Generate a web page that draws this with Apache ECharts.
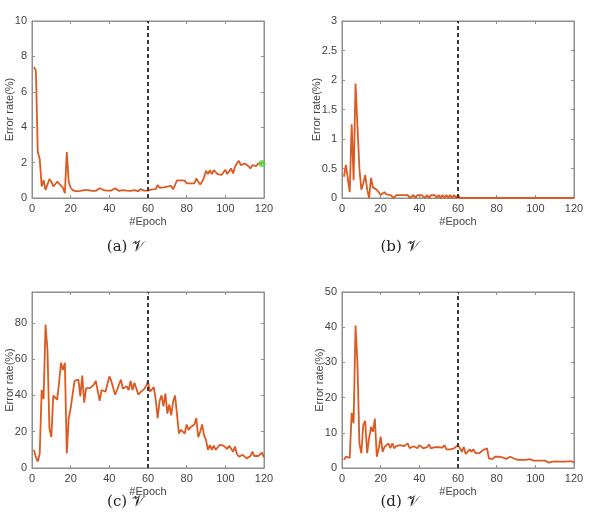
<!DOCTYPE html>
<html>
<head>
<meta charset="utf-8">
<script src="https://cdn.jsdelivr.net/npm/echarts@6/dist/echarts.min.js"></script>
<style>html,body{margin:0;padding:0;background:#fff}#c{width:591px;height:528px}</style>
</head>
<body>
<div id="c"></div>
<script>
const epochTicks = [0, 20, 40, 60, 80, 100, 120];
const splitEpoch = 60;
const captions = ['(a) \u{1D4B1}', '(b) \u{1D4B1}', '(c) \u{1D4B1}', '(d) \u{1D4B1}'];

const errA = [7.4, 7.2, 2.6, 2.2, 0.65, 1.0, 0.45, 0.36, 1.07, 0.92,
  0.65, 0.7, 0.92, 0.83, 0.7, 0.58, 0.27, 2.6, 0.9, 0.58,
  0.45, 0.4, 0.38, 0.45, 0.4, 0.5, 0.45, 0.48, 0.45, 0.42,
  0.4, 0.42, 0.4, 0.42, 0.55, 0.45, 0.45, 0.4, 0.42, 0.4,
  0.42, 0.4, 0.55, 0.45, 0.4, 0.42, 0.45, 0.45, 0.42, 0.45,
  0.4, 0.42, 0.45, 0.4, 0.38, 0.5, 0.45, 0.42, 0.45, 0.42,
  0.49, 0.49, 0.49, 0.5, 0.73, 0.58, 0.49, 0.6, 0.53, 0.64,
  0.55, 0.68, 0.49, 0.6, 1.0, 0.98, 1.0, 0.92, 0.98, 0.83,
  0.86, 0.83, 0.88, 0.83, 1.1, 0.92, 0.77, 0.92, 1.17, 1.54,
  1.35, 1.58, 1.35, 1.58, 1.48, 1.35, 1.24, 1.3, 1.39, 1.6,
  1.35, 1.39, 1.67, 1.39, 1.77, 1.95, 2.1, 1.86, 1.77, 1.95,
  2.05, 1.8, 1.67, 1.86, 1.92, 1.8, 1.95, 1.85, 1.95];
const markerA = [119, 1.95];

const errB = [0.36, 0.56, 0.55, 0.1, 1.25, 0.3, 1.94, 1.91, 0.5, 0.14,
  0.25, 0.39, 0.15, 0.0, 0.34, 0.18, 0.15, 0.14, 0.12, 0.05,
  0.06, 0.1, 0.06, 0.05, 0.05, 0.05, 0.0, 0.05, 0.05, 0.05,
  0.05, 0.05, 0.05, 0.05, 0.0, 0.0, 0.05, 0.0, 0.05, 0.05,
  0.05, 0.05, 0.0, 0.05, 0.0, 0.05, 0.05, 0.05, 0.0, 0.05,
  0.0, 0.05, 0.0, 0.05, 0.0, 0.05, 0.0, 0.05, 0.0, 0.05,
  0, 0, 0, 0, 0, 0, 0, 0, 0, 0,
  0, 0, 0, 0, 0, 0, 0, 0, 0, 0,
  0, 0, 0, 0, 0, 0, 0, 0, 0, 0,
  0, 0, 0, 0, 0, 0, 0, 0, 0, 0,
  0, 0, 0, 0, 0, 0, 0, 0, 0, 0,
  0, 0, 0, 0, 0, 0, 0, 0, 0, 0];

const errC = [10, 6, 3.5, 8, 43, 38, 79, 65, 22, 17,
  40, 41, 37.6, 47, 58, 54, 58, 8, 27.5, 33,
  33, 48, 48, 48.7, 39.5, 51, 36, 44, 44, 44,
  45, 46, 48, 48, 37, 43, 42.5, 42, 41, 50.5,
  48, 48, 40.4, 43, 46, 48.7, 43.7, 44.6, 45, 43,
  48, 43, 47, 47.7, 40.4, 41.7, 42.4, 43.5, 45, 47.7,
  42, 41, 44.6, 37.6, 27.5, 37, 40, 34, 41, 30,
  35, 29, 36.7, 40, 40, 19, 21, 20, 19, 24,
  21, 22.5, 23, 24, 27.5, 17, 20, 24, 18, 15.5,
  10, 12.7, 10, 12.3, 10, 11, 12.7, 13, 12.3, 11.8,
  10.5, 12.3, 11.8, 9, 11.8, 7.7, 6.3, 5.9, 7.2, 6.3,
  5.3, 4.4, 6.6, 9, 6.6, 6.3, 6.6, 6.6, 8.5, 5.9];

const errD = [2.3, 3.2, 3.2, 2.9, 15.7, 12.7, 40.5, 29.7, 7, 4.2,
  12.2, 13.4, 4.2, 8.4, 11.7, 10.3, 14, 3.2, 5.6, 8.9,
  4.6, 6, 6.5, 7, 5.6, 7, 5.6, 6.2, 6, 6.5,
  7, 6.2, 6.5, 7, 5.6, 5.9, 6.2, 5.9, 5.6, 6.5,
  6.2, 5.6, 5.1, 5.9, 6.7, 5.6, 6, 5.9, 6, 5.9,
  6.2, 5.8, 6.5, 5.3, 5.1, 5.3, 5.3, 5.6, 6, 6.5,
  5.6, 4.6, 6, 4, 4.6, 5.3, 4.6, 5.3, 4.2, 4.3,
  4.2, 4.3, 5.1, 5.4, 5.6, 2.7, 2.7, 2.6, 3.2, 3,
  3.2, 3.4, 3, 3.4, 2.6, 3, 3.2, 3.4, 2.7, 2.3,
  2.3, 2.1, 2.3, 2.1, 2.3, 2.3, 2.5, 2.3, 2.1, 2.3,
  2.1, 2.3, 2.1, 1.8, 2.1, 1.8, 1.5, 1.7, 1.8, 1.6,
  1.9, 1.7, 1.8, 1.7, 1.8, 1.6, 1.9, 1.7, 1.9, 1.5];

const yMax = [10, 3, 97, 50];
const yInterval = [2, 0.5, 20, 10];
const seriesData = [errA, errB, errC, errD];

const grids = [
  {left: 32, top: 21, width: 232, height: 177},
  {left: 342, top: 21, width: 232, height: 177},
  {left: 32, top: 292, width: 232, height: 176},
  {left: 342, top: 292, width: 232, height: 176}
];
const yNameGap = [17, 20, 17, 16.5];
const captionPos = [[126, 247], [400, 247], [126, 502], [400, 502]];

const frame = '#8f8f8f';
const txt = '#444444';
const font = 'Liberation Sans';
const lineColor = '#dc5a22';

const xAxes = [], yAxes = [], series = [], graphics = [];
grids.forEach((g, i) => {
  const common = {gridIndex: i, type: 'value', splitLine: {show: false},
    axisLine: {show: true, onZero: false, lineStyle: {color: frame, width: 1}},
    axisTick: {show: true, inside: true, length: 3, lineStyle: {color: frame}}};
  xAxes.push(Object.assign({}, common, {position: 'bottom', min: epochTicks[0], max: epochTicks[epochTicks.length - 1], interval: epochTicks[1] - epochTicks[0],
    axisLabel: {color: txt, fontSize: 11, fontFamily: font, margin: 5},
    name: '#Epoch', nameLocation: 'middle', nameGap: 18, nameMoveOverlap: false,
    nameTextStyle: {color: txt, fontSize: 11, fontFamily: font}}));
  xAxes.push(Object.assign({}, common, {position: 'top', min: epochTicks[0], max: epochTicks[epochTicks.length - 1], interval: epochTicks[1] - epochTicks[0],
    axisLabel: {show: false}}));
  yAxes.push(Object.assign({}, common, {position: 'left', min: 0, max: yMax[i], interval: yInterval[i],
    axisLabel: {color: txt, fontSize: 11, fontFamily: font, margin: 5, showMaxLabel: i !== 2},
    name: 'Error rate(%)', nameLocation: 'middle', nameGap: yNameGap[i], nameMoveOverlap: false,
    nameTextStyle: {color: txt, fontSize: 11, fontFamily: font}}));
  yAxes.push(Object.assign({}, common, {position: 'right', min: 0, max: yMax[i], interval: yInterval[i],
    axisLabel: {show: false}}));
  series.push({
    type: 'line', xAxisIndex: 2 * i, yAxisIndex: 2 * i,
    data: seriesData[i].map((v, k) => [k + 1, v]),
    symbol: 'none', lineStyle: {color: lineColor, width: 1.8}, z: 3,
    markLine: {silent: true, symbol: 'none', label: {show: false},
      lineStyle: {type: [4, 3], color: '#3a3a3a', width: 2},
      data: [{xAxis: splitEpoch}]}
  });
  graphics.push({type: 'text', x: captionPos[i][0], y: captionPos[i][1],
    style: {text: captions[i], font: '15px "DejaVu Serif", "Liberation Serif", serif', fill: '#222', textAlign: 'center', textVerticalAlign: 'middle'}});
});
series.push({type: 'scatter', xAxisIndex: 0, yAxisIndex: 0, data: [markerA],
  symbol: 'circle', symbolSize: 7, itemStyle: {color: '#55d63c'}, z: 5});

const chart = echarts.init(document.getElementById('c'), null, {renderer: 'canvas'});
chart.setOption({
  animation: false,
  grid: grids.map(g => Object.assign({show: true, borderColor: frame, borderWidth: 1, backgroundColor: '#fff'}, g)),
  xAxis: xAxes, yAxis: yAxes, series: series, graphic: graphics
});
</script>
</body>
</html>
